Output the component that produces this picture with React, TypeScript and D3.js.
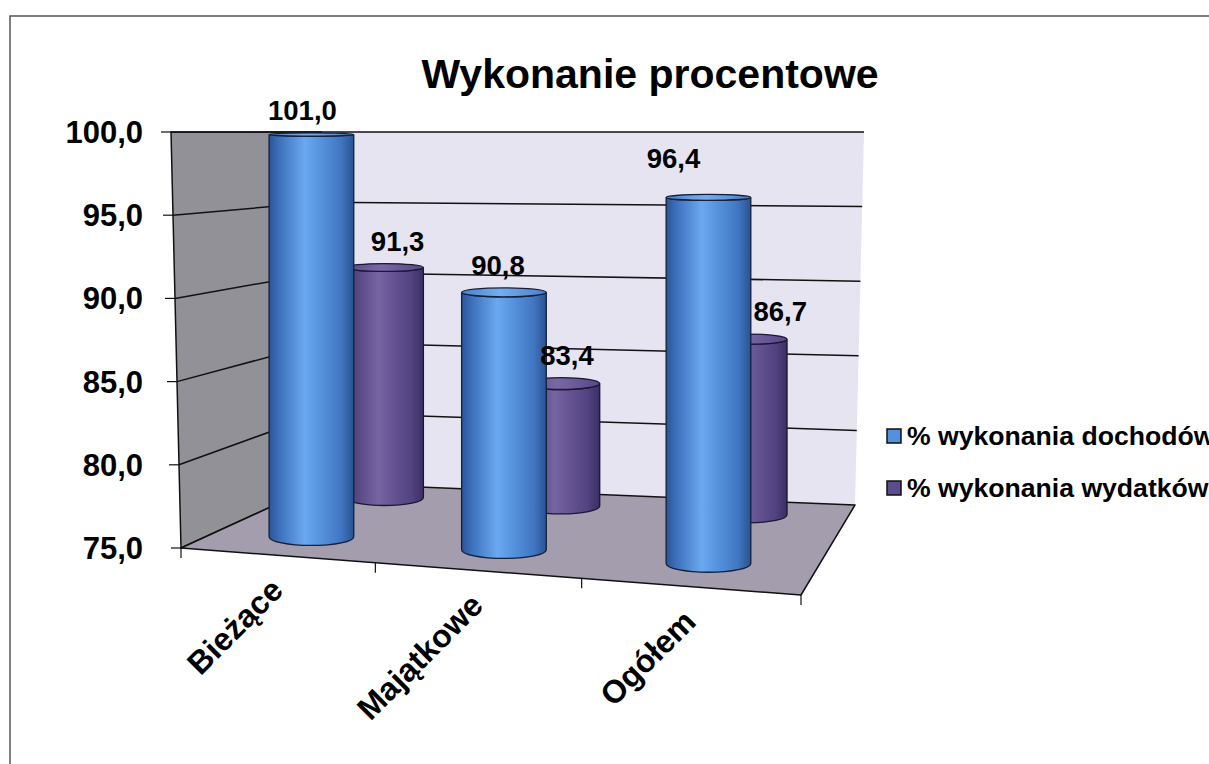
import React, { useEffect, useRef } from "react";
import * as d3 from "d3";

// chart data
const title = "Wykonanie procentowe";
const categories = ["Bieżące", "Majątkowe", "Ogółem"];
const seriesNames = ["% wykonania dochodów", "% wykonania wydatków"];
const dochody = [101.0, 90.8, 96.4];
const wydatki = [91.3, 83.4, 86.7];
const yTicks = [75, 80, 85, 90, 95, 100];

type Pt = [number, number];

const W = 1209;
const H = 764;

// the "3D" box
const FL: Pt = [181, 548]; // floor front-left
const FR: Pt = [801, 595]; // floor front-right
const BR: Pt = [855, 505]; // floor back-right
const BL: Pt = [323, 483]; // floor back-left
const TOP_Y = 132;

const persp = -0.0867; // mild foreshortening along the category axis
const warp = (u: number) => (u * (1 + persp)) / (1 + persp * u);

const lerp = (a: Pt, b: Pt, t: number): Pt => [a[0] + (b[0] - a[0]) * t, a[1] + (b[1] - a[1]) * t];
const floorPoint = (s: number, v: number): Pt => lerp(lerp(FL, BL, v), lerp(FR, BR, v), s);

// px per unit at floor corners (for the columns)
const K = { fl: 15.61, fr: 18.6, bl: 13.55, br: 14.59 };
const kAt = (u: number, v: number) =>
  (1 - v) * ((1 - u) * K.fl + u * K.fr) + v * ((1 - u) * K.bl + u * K.br);

const fmt = d3.formatLocale({ decimal: ",", thousands: " ", grouping: [3], currency: ["", " zł"] }).format(".1f");

const FONT = "'Liberation Sans', Arial, Helvetica, sans-serif";

const App: React.FC = () => {
  const ref = useRef<SVGSVGElement | null>(null);

  useEffect(() => {
    if (!ref.current) return;
    const svg = d3.select(ref.current);
    svg.selectAll("*").remove();

    // value scales along the three vertical edges of the box
    const frontY = d3.scaleLinear().domain([75, 100]).range([FL[1], TOP_Y]);
    const frontX = d3.scaleLinear().domain([75, 100]).range([FL[0], 171]);
    const backLY = d3.scaleLinear().domain([75, 100]).range([BL[1], TOP_Y]);
    const backLX = d3.scaleLinear().domain([75, 100]).range([BL[0], 321]);
    const backRY = d3.scaleLinear().domain([75, 100]).range([BR[1], TOP_Y]);
    const backRX = d3.scaleLinear().domain([75, 100]).range([BR[0], 864]);

    const defs = svg.append("defs");
    const grad = (id: string, stops: [number, string][]) => {
      const g = defs.append("linearGradient").attr("id", id).attr("x1", 0).attr("x2", 1).attr("y1", 0).attr("y2", 0);
      stops.forEach(([o, c]) => g.append("stop").attr("offset", o).attr("stop-color", c));
    };
    grad("bodyBlue", [[0, "#2b5597"], [0.12, "#3d70bb"], [0.42, "#6aa8f0"], [0.55, "#5c99e3"], [0.85, "#4076c2"], [1, "#2a5290"]]);
    grad("topBlue", [[0, "#4a82cc"], [0.45, "#72adf1"], [1, "#4b80c9"]]);
    grad("bodyPurple", [[0, "#3e3068"], [0.12, "#54447f"], [0.42, "#7664a3"], [0.55, "#6a5897"], [0.85, "#524280"], [1, "#3b2e63"]]);
    grad("topPurple", [[0, "#584886"], [0.45, "#7a68a6"], [1, "#574786"]]);

    // frame (only top and left edges are inside the picture)
    svg.append("path").attr("d", `M10,${H + 10}L10,16L${W + 10},16`)
      .attr("fill", "none").attr("stroke", "#555").attr("stroke-width", 1.5);

    const poly = (pts: Pt[]) => "M" + pts.map((p) => p.join(",")).join("L") + "Z";

    // walls and floor
    svg.append("path")
      .attr("d", poly([[frontX(100), frontY(100)], [backLX(100), backLY(100)], BL, FL]))
      .attr("fill", "#939198").attr("stroke", "#111").attr("stroke-width", 1.5);
    svg.append("path")
      .attr("d", poly([[backLX(100), backLY(100)], [backRX(100), backRY(100)], BR, BL]))
      .attr("fill", "#e7e4f1");
    svg.append("path")
      .attr("d", poly([FL, FR, BR, BL]))
      .attr("fill", "#a49dad").attr("stroke", "#111").attr("stroke-width", 1.5).attr("stroke-linejoin", "round");

    // gridlines
    yTicks.forEach((t) => {
      if (t === 75) return;
      svg.append("path")
        .attr("d", `M${frontX(t)},${frontY(t)}L${backLX(t)},${backLY(t)}L${backRX(t)},${backRY(t)}`)
        .attr("fill", "none").attr("stroke", "#111").attr("stroke-width", 1.5);
    });

    // value axis ticks and labels
    yTicks.forEach((t) => {
      svg.append("line")
        .attr("x1", frontX(t) - 10).attr("x2", frontX(t)).attr("y1", frontY(t)).attr("y2", frontY(t))
        .attr("stroke", "#111").attr("stroke-width", 1.2);
      svg.append("text")
        .attr("x", 143).attr("y", frontY(t) + 11)
        .attr("text-anchor", "end").attr("font-family", FONT).attr("font-weight", "bold")
        .attr("font-size", 31).attr("fill", "#000")
        .text(fmt(t));
    });

    // category ticks
    d3.range(categories.length + 1).forEach((i) => {
      const p = floorPoint(warp(i / categories.length), 0);
      svg.append("line").attr("x1", p[0]).attr("x2", p[0]).attr("y1", p[1]).attr("y2", p[1] + 10)
        .attr("stroke", "#111").attr("stroke-width", 1.2);
    });

    const band = d3.scaleBand<string>().domain(categories).range([0, 1]);
    const uOf = (c: string) => (band(c) ?? 0) + band.bandwidth() / 2;

    // category labels
    categories.forEach((c) => {
      const p = floorPoint(warp(uOf(c)), 0);
      svg.append("text")
        .attr("transform", `translate(${p[0] + 8},${p[1] + 37}) rotate(-45)`)
        .attr("text-anchor", "end").attr("font-family", FONT).attr("font-weight", "bold")
        .attr("font-size", 32).attr("fill", "#000")
        .text(c);
    });

    // columns: back row first
    const rows = [
      { values: wydatki, depth: 0.84, body: "bodyPurple", top: "topPurple", edge: "#1c1533", dx: [13, 6, 32], dy: [0, 0, 0] },
      { values: dochody, depth: 0.27, body: "bodyBlue", top: "topBlue", edge: "#13203a", dx: [-9, -6, -35], dy: [0, 0, -13] },
    ];
    const hw = 0.071;
    const labels: { x: number; y: number; t: string }[] = [];

    rows.forEach((row) => {
      categories.forEach((c, i) => {
        const u = uOf(c);
        const s = warp(u);
        const base = floorPoint(s, row.depth);
        const l = floorPoint(s - hw, row.depth);
        const r = floorPoint(s + hw, row.depth);
        const rx = (r[0] - l[0]) / 2;
        const cx = base[0];
        const k = kAt(u, row.depth);
        const val = row.values[i];
        const topY = base[1] - (val - 75) * k;
        const ryT = Math.max(1.5, rx * 0.0065 * (107 - val));
        const ryB = rx * 0.0065 * (107 - 75);

        svg.append("path")
          .attr("d", `M${cx - rx},${topY}L${cx - rx},${base[1]}A${rx},${ryB} 0 0 0 ${cx + rx},${base[1]}L${cx + rx},${topY}A${rx},${ryT} 0 0 1 ${cx - rx},${topY}Z`)
          .attr("fill", `url(#${row.body})`).attr("stroke", row.edge).attr("stroke-width", 1.3);
        svg.append("ellipse")
          .attr("cx", cx).attr("cy", topY).attr("rx", rx).attr("ry", ryT)
          .attr("fill", `url(#${row.top})`).attr("stroke", row.edge).attr("stroke-width", 1.3);

        labels.push({ x: cx + row.dx[i], y: topY - ryT - 13 + row.dy[i], t: fmt(val) });
      });
    });

    labels.forEach((d) => {
      svg.append("text")
        .attr("x", d.x).attr("y", d.y).attr("text-anchor", "middle")
        .attr("font-family", FONT).attr("font-weight", "bold").attr("font-size", 27.5).attr("fill", "#000")
        .text(d.t);
    });

    // title
    svg.append("text")
      .attr("x", 650).attr("y", 88).attr("text-anchor", "middle")
      .attr("font-family", FONT).attr("font-weight", "bold").attr("font-size", 41).attr("fill", "#000")
      .text(title);

    // legend
    const legendColors = ["#5590dc", "#5d4c8c"];
    seriesNames.forEach((name, i) => {
      const y = 445 + i * 52;
      svg.append("rect").attr("x", 887).attr("y", y - 16).attr("width", 14).attr("height", 14)
        .attr("fill", legendColors[i]).attr("stroke", "#111").attr("stroke-width", 1.5);
      svg.append("text")
        .attr("x", 907).attr("y", y)
        .attr("font-family", FONT).attr("font-weight", "bold").attr("font-size", 26.6).attr("fill", "#000")
        .text(name);
    });
  }, []);

  return (
    <svg
      ref={ref}
      width={W}
      height={H}
      style={{ position: "absolute", left: 0, top: 0, display: "block" }}
    />
  );
};

export default App;
